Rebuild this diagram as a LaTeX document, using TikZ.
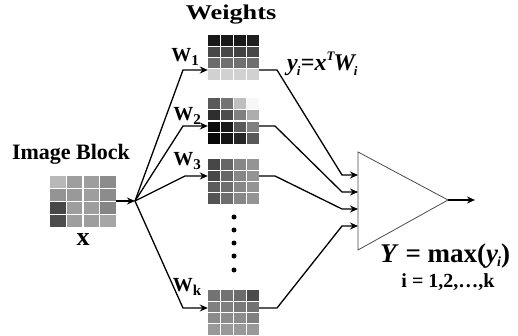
\documentclass[tikz,border=0pt]{standalone}
\usepackage{fontspec}
\setmainfont{Liberation Serif}
\usetikzlibrary{arrows.meta,calc}
\newcommand\fillcells[2]{%
  \foreach \v [count=\n from 0] in {#2} {%
    \pgfmathtruncatemacro\cc{mod(\n,4)}%
    \pgfmathtruncatemacro\rr{div(\n,4)}%
    \fill[black!\v] let \p1=(#1.north west), \p2=(#1.south east) in
      ({\x1+(\x2-\x1)*\cc/4},{\y1+(\y2-\y1)*\rr/4}) rectangle
      ({\x1+(\x2-\x1)*(\cc+1)/4},{\y1+(\y2-\y1)*(\rr+1)/4});
  }%
  \foreach \k in {1,2,3} {%
    \draw[cellline] ($(#1.north west)!\k/4!(#1.north east)$) -- ($(#1.south west)!\k/4!(#1.south east)$);
    \draw[cellline] ($(#1.north west)!\k/4!(#1.south west)$) -- ($(#1.north east)!\k/4!(#1.south east)$);
  }%
}
\newcommand\subtxt[1]{\raisebox{-4pt}{\fontsize{15}{15}\selectfont #1}}
\begin{document}
\begin{tikzpicture}[x=1pt,y=-1pt,
  conn/.style={line width=1.3pt, -{Stealth[length=8pt,width=7pt]}},
  wire/.style={line width=1.3pt},
  gridbox/.style={draw=none, inner sep=0pt, minimum width=51pt, minimum height=45pt},
  cellline/.style={white, line width=1.1pt},
  lbl/.style={font=\fontsize{20}{20}\selectfont\bfseries, inner sep=0pt},
  title/.style={font=\fontsize{22}{22}\selectfont\bfseries, inner sep=0pt},
  dotmark/.style={circle, fill=black, inner sep=0pt, minimum size=5pt},
  tri/.style={draw=black!70, line width=0.8pt, fill=white}]
\useasboundingbox (0,0) rectangle (518,336);

% grids
\node[gridbox, minimum width=66pt, minimum height=51pt] (img) at (83,201.5) {};
\node[gridbox] (w1) at (233.5,57.5) {};
\node[gridbox] (w2) at (233.5,121) {};
\node[gridbox] (w3) at (233.5,181.5) {};
\node[gridbox] (wk) at (233.5,312.5) {};
\fillcells{img}{28,38,38,45, 42,40,38,45, 72,38,38,48, 70,38,38,35}
\fillcells{w1}{90,90,90,88, 72,72,74,72, 58,56,56,56, 18,18,18,18}
\fillcells{w2}{65,55,25,3, 82,70,50,32, 95,90,65,50, 97,92,85,65}
\fillcells{w3}{72,60,47,42, 72,60,47,42, 64,57,47,42, 67,57,47,42}
\fillcells{wk}{55,55,58,70, 50,50,52,55, 45,45,45,50, 40,40,40,40}

% titles and labels
\node[title] (tib) at (71,154) {Image Block};
\node[title, font=\fontsize{21}{21}\selectfont\bfseries] (tw) at (231,15) {\scalebox{1.25}[1]{Weights}};
\node[title, font=\fontsize{26}{26}\selectfont\bfseries] (tx) at (83,240) {x};
\node[lbl] (l1) at (185,57) {W\subtxt{1}};
\node[lbl] (l2) at (187,116) {W\subtxt{2}};
\node[lbl] (l3) at (187,161) {W\subtxt{3}};
\node[lbl] (lk) at (187,287) {W\subtxt{k}};

% dots
\foreach \yy [count=\i] in {217,230,243,256,270} \node[dotmark] (d\i) at (234,\yy) {};

% triangle
\coordinate (tA) at (358,152);
\coordinate (tB) at (358,250);
\coordinate (tC) at (448,200);
\draw[tri] (tA) -- (tC) -- (tB) -- cycle;
\coordinate (out) at (475,200);
\draw[conn] (tC) -- (out);

% junction and input fan
\coordinate (j) at (135,201);
\draw[conn] (img.east |- j) -- (j);
\coordinate (b1) at (183,70);
\coordinate (b2) at (183,126);
\coordinate (b3) at (185,176);
\coordinate (bk) at (183,308);
\draw[conn] (j) -- (b1) -- (b1 -| w1.west);
\draw[conn] (j) -- (b2) -- (b2 -| w2.west);
\draw[conn] (j) -- (b3) -- (b3 -| w3.west);
\draw[conn] (j) -- (bk) -- (bk -| wk.west);

% outputs
\coordinate (o1) at (277,70);
\coordinate (o2) at (275,126);
\coordinate (o3) at (275,176);
\coordinate (ok) at (277,308);
\coordinate (c1) at (342,175);
\coordinate (c2) at (342,192);
\coordinate (c3) at (342,209);
\coordinate (ck) at (342,226);
\draw[conn] (w1.east |- o1) -- (o1) -- (c1) -- (c1 -| tA);
\draw[conn] (w2.east |- o2) -- (o2) -- (c2) -- (c2 -| tA);
\draw[conn] (w3.east |- o3) -- (o3) -- (c3) -- (c3 -| tA);
\draw[conn] (wk.east |- ok) -- (ok) -- (ck) -- (ck -| tA);

% formulas
\node[anchor=base west, inner sep=0pt, font=\fontsize{24}{24}\selectfont\bfseries\itshape] (fy) at (287,71)
  {y\kern-1pt\raisebox{-5pt}{\fontsize{13}{13}\selectfont i}\kern0.5pt\upshape=\itshape x\raisebox{10pt}{\fontsize{13}{13}\selectfont T}\kern-1pt W\kern-1pt\raisebox{-5pt}{\fontsize{13}{13}\selectfont i}};
\node[anchor=base west, inner sep=0pt, font=\fontsize{27}{27}\selectfont\bfseries] (fmax) at (380,262)
  {\textit{Y} = max(\textit{y}\kern-1pt\raisebox{-4pt}{\fontsize{14}{14}\selectfont\itshape i})};
\node[inner sep=0pt, font=\fontsize{20}{20}\selectfont\bfseries] (fi) at (448,282) {i = 1,2,\ldots,k};
\end{tikzpicture}
\end{document}
